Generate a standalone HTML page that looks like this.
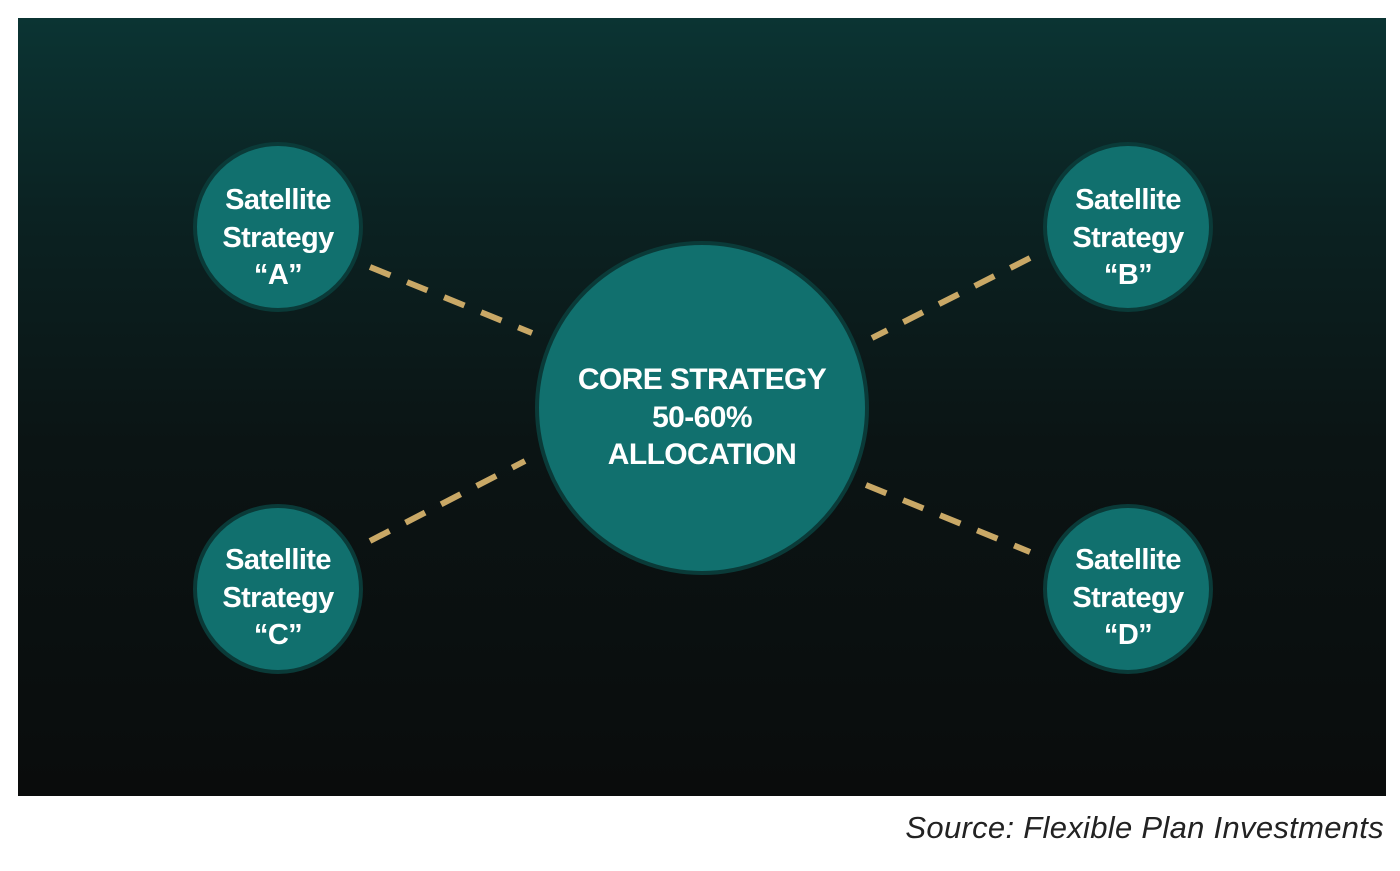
<!DOCTYPE html>
<html><head><style>
body{margin:0;width:1400px;height:871px;background:#fff;position:relative;overflow:hidden;font-family:"Liberation Sans",Arial,sans-serif}
.panel{position:absolute;left:18px;top:18px;width:1368px;height:778px;background:linear-gradient(180deg,#0b3433 0%,#0b2222 25%,#0b1414 55%,#0a0c0c 100%)}
.src{position:absolute;right:16px;top:810px;font-style:italic;font-size:31px;color:#222;letter-spacing:0.3px}
</style></head><body>
<div class="panel"></div>
<svg width="1400" height="871" style="position:absolute;left:0;top:0">
<g stroke="#c9a866" stroke-width="6" stroke-dasharray="22 18">
<line x1="370" y1="267" x2="532" y2="333"/>
<line x1="1030" y1="258" x2="872" y2="338"/>
<line x1="370" y1="541" x2="525" y2="461"/>
<line x1="866" y1="485" x2="1030" y2="552"/>
</g>
<g fill="#11706e" stroke="#0a3a38" stroke-width="4">
<circle cx="278" cy="227" r="83"/>
<circle cx="1128" cy="227" r="83"/>
<circle cx="278" cy="589" r="83"/>
<circle cx="1128" cy="589" r="83"/>
<circle cx="702" cy="408" r="165"/>
</g>
<g fill="#fff" font-family="Liberation Sans,Arial,sans-serif" font-weight="bold" font-size="29" text-anchor="middle" letter-spacing="-0.6">
<text x="278" y="209">Satellite</text><text x="278" y="247">Strategy</text><text x="278" y="284">“A”</text>
<text x="1128" y="209">Satellite</text><text x="1128" y="247">Strategy</text><text x="1128" y="284">“B”</text>
<text x="278" y="569">Satellite</text><text x="278" y="607">Strategy</text><text x="278" y="644">“C”</text>
<text x="1128" y="569">Satellite</text><text x="1128" y="607">Strategy</text><text x="1128" y="644">“D”</text>
<g font-size="30"><text x="702" y="389">CORE STRATEGY</text><text x="702" y="427">50-60%</text><text x="702" y="464">ALLOCATION</text></g>
</g>
</svg>
<div class="src">Source: Flexible Plan Investments</div>
</body></html>
